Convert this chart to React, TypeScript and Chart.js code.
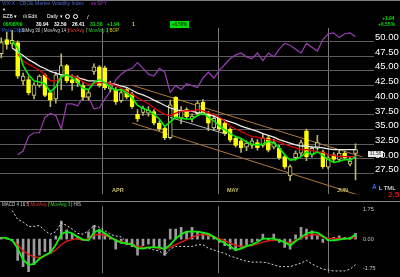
import React, { useEffect, useRef } from "react";
import { Chart, registerables } from "chart.js";

Chart.register(...registerables);

// ---------- data ----------
// bar index 0 = 03/05/09 ... 65 = 06/08/09
const opens = [
  47.9, 50.3, 49.6, 49.8, 43.3, 43.5, 40.8, 42.5, 44.3, 41.3,
  40.2, 44.3, 45.9, 43.5, 43.8, 42.5, 40.5, 44.9, 45.7, 45.5,
  41.9, 41.8, 39.9, 41.8, 41.0, 37.6, 37.9, 37.8, 38.05, 36.1,
  35.3, 33.6, 40.5, 37.0, 38.4, 36.8, 37.7, 39.7, 37.7, 35.3,
  36.9, 36.1, 35.1, 33.5, 33.1, 32.0, 32.3, 32.8, 32.3, 33.6,
  32.0, 31.8, 30.4, 27.1, 30.2, 31.0, 34.8, 30.7, 31.8, 31.2,
  28.6, 30.7, 29.9, 31.0, 29.1, 30.94,
];
const highs = [
  50.6, 51.6, 51.9, 50.1, 44.6, 44.0, 43.0, 44.3, 44.5, 41.7,
  44.8, 47.9, 46.1, 44.3, 44.2, 43.0, 41.8, 46.2, 45.9, 45.8,
  43.2, 42.2, 41.8, 42.2, 41.4, 38.4, 39.0, 38.9, 38.4, 36.5,
  35.6, 40.0, 40.6, 38.9, 38.7, 37.7, 39.9, 40.1, 38.1, 37.7,
  37.1, 36.5, 35.3, 33.8, 33.5, 33.1, 33.5, 33.3, 34.3, 34.0,
  33.4, 32.3, 30.8, 29.0, 31.4, 33.2, 35.1, 32.2, 34.0, 31.5,
  30.7, 31.1, 31.6, 31.4, 30.4, 32.59,
];
const lows = [
  47.2, 48.7, 49.0, 43.7, 42.6, 40.9, 40.2, 42.2, 40.6, 38.9,
  39.5, 41.8, 43.0, 41.7, 42.3, 40.0, 40.0, 44.4, 42.2, 41.8,
  41.4, 39.3, 39.6, 40.2, 38.6, 36.4, 37.4, 37.3, 35.8, 34.8,
  33.3, 33.4, 36.9, 36.0, 36.9, 36.3, 37.4, 37.5, 34.8, 34.8,
  34.8, 34.0, 32.9, 32.0, 31.1, 31.4, 31.8, 31.5, 32.0, 31.2,
  31.7, 29.9, 28.3, 26.3, 29.8, 30.5, 29.7, 30.3, 31.5, 28.4,
  28.3, 29.5, 29.5, 29.9, 28.8, 26.41,
];
const closes = [
  49.8, 49.5, 50.2, 44.1, 44.1, 41.3, 42.6, 44.1, 40.8, 40.0,
  44.3, 45.9, 43.3, 43.0, 43.0, 40.5, 41.3, 45.7, 42.5, 42.1,
  42.6, 39.7, 41.3, 40.5, 38.9, 36.8, 38.6, 38.3, 36.1, 35.1,
  33.6, 39.2, 37.2, 38.3, 37.2, 37.3, 39.5, 37.8, 36.1, 36.9,
  35.1, 34.3, 33.2, 32.3, 31.9, 32.7, 33.1, 31.9, 33.6, 31.5,
  32.8, 30.2, 28.6, 28.7, 31.0, 32.8, 30.4, 31.8, 32.8, 28.7,
  30.2, 29.9, 31.0, 30.2, 29.64, 31.58,
];
const movAvg3 = [
  null, null, 50.0, 48.9, 45.9, 44.3, 43.3, 43.1, 42.8, 41.4,
  42.3, 44.0, 44.3, 43.8, 43.1, 42.0, 41.8, 43.0, 43.5, 43.0,
  42.2, 41.7, 41.8, 41.2, 40.4, 39.1, 38.6, 38.3, 37.6, 36.8,
  35.5, 36.3, 37.1, 36.9, 36.8, 36.8, 37.4, 37.8, 37.1, 36.5,
  35.6, 35.0, 34.3, 33.8, 33.5, 32.9, 32.5, 32.4, 32.5, 33.0,
  32.7, 31.9, 30.7, 29.8, 29.9, 30.4, 31.2, 30.7, 31.2, 30.6,
  29.9, 29.4, 29.6, 29.9, 29.8, 30.4,
];
const movAvg7 = [
  null, null, null, 47.9, 46.7, 46.1, 45.6, 45.1, 44.3, 43.3,
  43.3, 43.8, 44.3, 44.1, 43.8, 43.1, 42.7, 42.8, 43.0, 43.0,
  42.8, 42.5, 42.0, 41.5, 41.0, 40.4, 39.9, 39.4, 38.7, 38.1,
  37.6, 37.4, 37.8, 38.1, 38.2, 38.2, 38.4, 38.2, 37.9, 37.6,
  37.1, 36.5, 35.6, 35.1, 34.7, 34.2, 33.8, 33.7, 33.5, 33.3,
  33.2, 32.9, 32.5, 32.2, 31.9, 31.6, 31.6, 31.4, 31.2, 31.1,
  30.7, 30.6, 30.4, 30.4, 30.4, 30.4,
];
const movAvg14 = [
  null, null, 48.9, 48.2, 47.6, 46.9, 46.4, 45.8, 45.4, 44.9,
  44.6, 44.3, 44.2, 44.1, 43.8, 43.6, 43.3, 43.3, 43.1, 43.0,
  42.8, 42.7, 42.4, 42.2, 41.7, 41.2, 40.9, 40.5, 40.0, 39.6,
  39.1, 38.7, 38.4, 38.2, 38.2, 38.1, 37.9, 37.8, 37.5, 37.3,
  36.9, 36.6, 36.3, 36.0, 35.6, 35.3, 35.0, 34.7, 34.3, 34.0,
  33.7, 33.3, 33.0, 32.7, 32.4, 32.2, 32.2, 32.0, 32.0, 31.9,
  31.7, 31.6, 31.6, 31.6, 31.6, 31.6,
];
const spyCloses = [
  null, null, null, 71.04, 71.79, 74.62, 75.38, 75.38, 78.39, 79.15,
  78.77, 76.13, 81.04, 81.04, 80.66, 82.36, 82.36, 80.09, 80.28, 81.98,
  83.49, 85.75, 86.88, 87.64, 88.02, 89.15, 88.02, 86.88, 86.51, 88.02,
  87.26, 83.3, 84.62, 83.87, 85.0, 84.62, 84.24, 86.13, 87.26, 86.13,
  87.64, 88.77, 89.9, 90.66, 91.04, 90.28, 89.9, 91.04, 89.53, 91.04,
  90.28, 91.79, 92.92, 92.55, 91.79, 91.04, 92.92, 92.17, 91.41, 93.68,
  94.81, 95.0, 94.06, 94.81, 95.0, 94.24,
];
// hand-drawn trend lines: [bar index, price]
const channelUpper = [[24, 42.54], [66.19, 30.36]];
const channelLower = [[24, 36.14], [66.19, 23.65]];
const trendLine = [[30.96, 37.07], [41.05, 34.29]];

// lower panel
const macdHist = [
  0.1, 0.05, -0.1, -1.28, -1.65, -1.95, -1.54, -0.96, -0.76, -0.86,
  0.18, 1.07, 0.55, 0.34, 0.18, -0.08, 0.44, 0.81, 0.55, 0.34,
  0.1, -0.6, -0.24, -0.34, -0.45, -0.96, -0.4, -0.3, -0.5, -0.6,
  -0.96, 0.6, 0.6, 0.7, 0.44, 0.7, 0.44, 0.4, 0.3, 0.15,
  -0.2, -0.4, -0.6, -0.7, -0.5, -0.35, -0.2, -0.1, 0.3, -0.05,
  0.3, -0.2, -0.5, -0.6, 0.25, 0.7, 0.6, 0.5, 0.25, -0.2,
  -0.1, 0.1, 0.2, 0.1, 0.1, 0.35,
];
const macdAvg7 = [
  0.08, 0.05, -0.08, -0.34, -0.71, -0.91, -1.07, -1.12, -1.02, -0.86,
  -0.65, -0.34, -0.13, -0.03, 0.03, -0.08, 0.03, 0.24, 0.29, 0.24,
  0.08, -0.05, -0.16, -0.24, -0.34, -0.42, -0.5, -0.5, -0.5, -0.55,
  -0.6, -0.5, -0.34, -0.18, -0.03, 0.1, 0.24, 0.29, 0.21, 0.13,
  0.03, -0.1, -0.24, -0.37, -0.44, -0.42, -0.39, -0.29, -0.18, -0.1,
  -0.08, -0.08, -0.16, -0.24, -0.1, 0.05, 0.18, 0.29, 0.24, 0.13,
  0.05, 0.03, 0.03, 0.03, 0.03, 0.08,
];
const macdAvg3 = [
  0.08, 0.05, -0.08, -0.55, -1.23, -1.54, -1.49, -1.18, -0.97, -0.81,
  -0.34, 0.29, 0.44, 0.34, 0.13, -0.03, -0.08, 0.39, 0.55, 0.34,
  0.13, -0.08, -0.21, -0.26, -0.34, -0.55, -0.57, -0.5, -0.5, -0.5,
  -0.6, -0.34, 0.03, 0.29, 0.44, 0.44, 0.44, 0.39, 0.31, 0.13,
  -0.08, -0.24, -0.44, -0.65, -0.57, -0.42, -0.34, -0.18, 0.03, 0.03,
  0.03, -0.08, -0.18, -0.39, -0.13, 0.1, 0.34, 0.42, 0.39, 0.18,
  -0.08, -0.08, -0.03, 0.03, 0.03, 0.29,
];
const macdLine = [
  null, null, 1.7, 1.18, 1.02, 0.76, 0.76, 0.81, 0.5, 0.29,
  0.44, 0.97, 0.81, 0.6, 0.34, 0.29, 0.5, 0.81, 0.71, 0.5,
  0.29, 0.18, 0.13, -0.18, -0.29, -0.44, -0.5, -0.55, -0.65, -0.71,
  -0.97, -0.6, -0.44, -0.44, -0.44, -0.44, -0.34, -0.34, -0.55, -0.65,
  -0.76, -0.86, -1.02, -1.12, -1.23, -1.33, -1.38, -1.38, -1.38, -1.44,
  -1.54, -1.65, -1.65, -1.65, -1.54, -1.44, -1.28, -1.49, -1.65, -1.8,
  -1.85, -1.91, -1.91, -1.91, -1.8, -1.54,
];

const monthLines = [18.57, 39.77, 59.96];
const priceTicks = [27.5, 30, 32.5, 35, 37.5, 40, 42.5, 45, 47.5, 50];
const macdTicks = [-1.75, 0, 1.75];

// ---------- helpers ----------
const X_MIN = -0.24;
const X_MAX = 66.19;

function pts(arr: (number | null)[]) {
  const out: { x: number; y: number }[] = [];
  arr.forEach((v, i) => {
    if (v !== null) out.push({ x: i, y: v });
  });
  return out;
}
function seg(arr: number[][]) {
  return arr.map(([x, y]) => ({ x, y }));
}

const axisFont = "'Liberation Sans',Arial,sans-serif";

function xScale() {
  return {
    type: "linear",
    min: X_MIN,
    max: X_MAX,
    offset: false,
    grid: { color: "#7a7a7a", drawTicks: false, offset: false, lineWidth: 1 },
    border: { display: false },
    ticks: { display: false },
    afterBuildTicks: (s: any) => {
      s.ticks = monthLines.map((v) => ({ value: v }));
    },
    afterFit: (s: any) => {
      s.height = 0;
    },
  };
}

export default function App() {
  const mainRef = useRef<HTMLCanvasElement | null>(null);
  const macdRef = useRef<HTMLCanvasElement | null>(null);

  useEffect(() => {
    const line = { type: "line", pointRadius: 0, tension: 0, fill: false };
    const main = new Chart(mainRef.current as HTMLCanvasElement, {
      type: "bar",
      data: {
        datasets: [
          { ...line, label: "SPY", data: pts(spyCloses), yAxisID: "ySpy", borderColor: "#9a3cb4", borderWidth: 1.2, order: 9 },
          { ...line, label: "Channel top", data: seg(channelUpper), borderColor: "#b07838", borderWidth: 1, order: 8 },
          { ...line, label: "Channel bottom", data: seg(channelLower), borderColor: "#b07838", borderWidth: 1, order: 8 },
          {
            type: "bar",
            label: "High-Low",
            data: highs.map((h, i) => ({ x: i, y: [lows[i], h] })),
            backgroundColor: "#b8b468",
            barThickness: 1,
            grouped: false,
            order: 7,
          },
          {
            type: "bar",
            label: "Open-Close",
            data: opens.map((o, i) => ({ x: i, y: [o, closes[i]] })),
            backgroundColor: opens.map((o, i) => (closes[i] < o ? "#ffff00" : "#000000")),
            borderColor: opens.map((o, i) => (closes[i] < o ? "#ffff00" : "#d2d27c")),
            borderWidth: 1,
            borderSkipped: false,
            barThickness: 4,
            grouped: false,
            order: 6,
          },
          { ...line, label: "Trend", data: seg(trendLine), borderColor: "#b4b4b4", borderWidth: 1, order: 5 },
          { ...line, label: "MovAvg 14", data: pts(movAvg14), borderColor: "#ececec", borderWidth: 1.3, order: 4 },
          { ...line, label: "MovAvg 7", data: pts(movAvg7), borderColor: "#e00000", borderWidth: 1.3, order: 3 },
          { ...line, label: "MovAvg 3", data: pts(movAvg3), borderColor: "#00f000", borderWidth: 1.6, order: 2 },
        ] as any,
      },
      options: {
        responsive: false,
        animation: false,
        events: [],
        layout: { padding: { top: 28, left: 0, right: 0, bottom: 0 } },
        plugins: { legend: { display: false }, tooltip: { enabled: false } },
        scales: {
          x: xScale() as any,
          y: {
            position: "right",
            min: 23.98,
            max: 52.29,
            grid: { color: "#5e5e5e", tickLength: 12, tickColor: "#5e5e5e", lineWidth: 1 },
            border: { display: false },
            ticks: {
              color: "#ffffff",
              font: { family: axisFont, size: 9.5 },
              padding: 1,
              labelOffset: -4,
              autoSkip: false,
              callback: (v: any) => Number(v).toFixed(2),
            },
            afterBuildTicks: (s: any) => {
              s.ticks = priceTicks.map((v) => ({ value: v }));
            },
            afterFit: (s: any) => {
              s.width = 38;
            },
          } as any,
          ySpy: { display: false, min: 63.3, max: 95.94 } as any,
        },
      },
    });

    const macd = new Chart(macdRef.current as HTMLCanvasElement, {
      type: "bar",
      data: {
        datasets: [
          { type: "bar", label: "HIS", data: pts(macdHist), backgroundColor: "#9c9c9c", barThickness: 2, grouped: false, order: 4 },
          { ...line, label: "MACD 4 16 5", data: pts(macdLine), borderColor: "#d8d8d8", borderWidth: 1, borderDash: [2, 2], order: 3 },
          { ...line, label: "MovAvg 7", data: pts(macdAvg7), borderColor: "#e01818", borderWidth: 1.4, order: 2 },
          { ...line, label: "MovAvg 3", data: pts(macdAvg3), borderColor: "#10f010", borderWidth: 1.8, order: 1 },
        ] as any,
      },
      options: {
        responsive: false,
        animation: false,
        events: [],
        layout: { padding: 0 },
        plugins: { legend: { display: false }, tooltip: { enabled: false } },
        scales: {
          x: xScale() as any,
          y: {
            position: "right",
            min: -2.015,
            max: 1.962,
            grid: { display: false, drawTicks: false },
            border: { display: false },
            ticks: {
              color: "#c8c8c8",
              font: { family: axisFont, size: 5.5 },
              padding: 1,
              autoSkip: false,
              callback: (v: any) => Number(v).toFixed(2),
            },
            afterBuildTicks: (s: any) => {
              s.ticks = macdTicks.map((v) => ({ value: v }));
            },
            afterFit: (s: any) => {
              s.width = 38;
            },
          } as any,
        },
      },
    });

    return () => {
      main.destroy();
      macd.destroy();
    };
  }, []);

  const T = (props: { x: number; y: number; c: string; s?: number; b?: boolean; children: React.ReactNode }) => (
    <span
      style={{
        position: "absolute",
        left: props.x,
        top: props.y,
        color: props.c,
        fontSize: props.s ?? 5,
        fontWeight: props.b ? 700 : 400,
        whiteSpace: "nowrap",
        lineHeight: 1,
      }}
    >
      {props.children}
    </span>
  );

  return (
    <div
      style={{
        position: "fixed",
        left: 0,
        top: 0,
        width: 400,
        height: 277,
        background: "#000",
        overflow: "hidden",
        fontFamily: "'Liberation Sans', Arial, sans-serif",
      }}
    >
      <canvas ref={mainRef} width={400} height={201} style={{ position: "absolute", left: 0, top: 0, width: 400, height: 201 }} />
      <canvas ref={macdRef} width={400} height={75} style={{ position: "absolute", left: 0, top: 202, width: 400, height: 75 }} />
      <div style={{ position: "absolute", left: 0, top: 0, width: 400, height: 1, background: "#7c7c7c" }} />
      <div style={{ position: "absolute", left: 0, top: 201, width: 400, height: 1, background: "#8a8a8a" }} />

      {/* header row 1 */}
      <T x={2} y={0.5} c="#4a68c8">VIX-X - CBOE Market Volatility Index</T>
      <T x={91} y={0.5} c="#c040c8">vs</T>
      <T x={97} y={0.5} c="#9838b0">SPY</T>
      <T x={2} y={8} c="#ffffff" s={4}>▼</T>
      {/* header row 2 */}
      <T x={3} y={14} c="#ffffff">EZB ▾</T>
      <T x={23} y={14} c="#ffffff">ılı Edit</T>
      <T x={47} y={14} c="#ffffff">Daily ▾</T>
      <span style={{ position: "absolute", left: 65, top: 14, width: 3, height: 3, border: "1px solid #fff", borderRadius: 3 }} />
      <span style={{ position: "absolute", left: 73, top: 14, width: 3, height: 3, border: "1px solid #fff", borderRadius: 3 }} />
      <T x={87} y={13.5} c="#ffffff" s={6}>/</T>
      {/* header row 3 */}
      <T x={3} y={21.5} c="#00e000" b>06/08/09</T>
      <T x={36} y={21.5} c="#ffffff" b>30.94</T>
      <T x={54} y={21.5} c="#ffffff" b>32.59</T>
      <T x={72} y={21.5} c="#ffffff" b>26.41</T>
      <T x={90} y={21.5} c="#00e000" b>31.58</T>
      <T x={107} y={21.5} c="#00e000" b>+1.94</T>
      <T x={132} y={21.5} c="#e0e000" b>1</T>
      <span
        style={{
          position: "absolute",
          left: 170,
          top: 21,
          width: 19,
          height: 7,
          background: "#00e000",
          color: "#003000",
          fontSize: 4.5,
          lineHeight: "7px",
          textAlign: "center",
          fontWeight: 700,
        }}
      >
        +6.55%
      </span>
      <T x={382} y={15.5} c="#00e000" b>+1.94</T>
      <T x={378} y={21.5} c="#00e000" b>+6.55%</T>
      {/* header row 4 */}
      <T x={2} y={28.5} c="#3868e8" s={4.5}>Price Chart</T>
      <T x={19} y={28.5} c="#d0d0d0" s={4.5}>| SiMvg 30 | MovAvg 14 |</T>
      <T x={68} y={28.5} c="#e03030" s={4.5}>MovAvg 7</T>
      <T x={86} y={28.5} c="#30d030" s={4.5}>| MovAvg 3</T>
      <T x={107} y={28.5} c="#d0d000" s={4.5}>| BOP</T>

      {/* month labels */}
      <T x={112} y={187.5} c="#c8c068" s={5.5} b>APR</T>
      <T x={227} y={187.5} c="#c8c068" s={5.5} b>MAY</T>
      <T x={337} y={187.5} c="#c8c068" s={5.5} b>JUN</T>

      {/* last price box and bottom-right marks */}
      <span
        style={{
          position: "absolute",
          left: 368,
          top: 151,
          width: 15,
          height: 6,
          background: "#e8e8e8",
          color: "#303030",
          fontSize: 4.5,
          lineHeight: "6px",
          textAlign: "center",
        }}
      >
        31.58
      </span>
      <T x={372} y={184} c="#3060ff" s={6.5} b>A</T>
      <T x={379} y={184.5} c="#ffffff" s={6}>L TML</T>
      <T x={388} y={190.5} c="#e01010" s={8} b>2.5</T>

      {/* lower panel header */}
      <T x={2} y={203} c="#c8c8c8" s={4.5}>MACD 4 16 5</T>
      <T x={28} y={203} c="#e03030" s={4.5}>| MovAvg 7</T>
      <T x={48} y={203} c="#30d030" s={4.5}>| MovAvg 3</T>
      <T x={71} y={203} c="#c8c8c8" s={4.5}>| HIS</T>
    </div>
  );
}
